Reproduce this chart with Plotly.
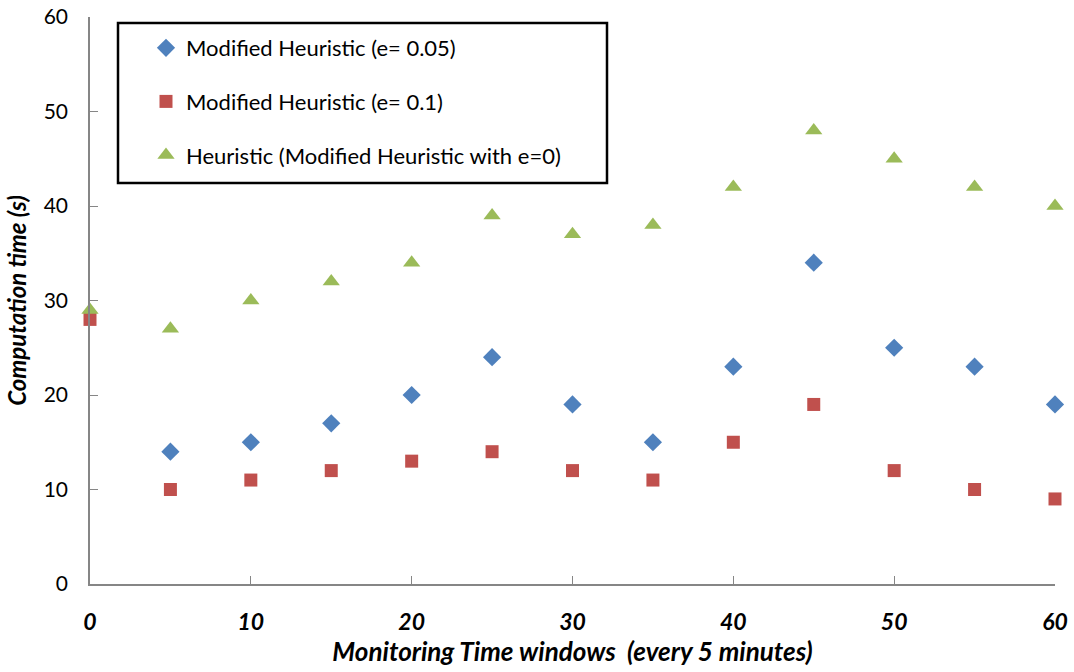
import plotly.graph_objects as go

# Monitoring time windows (every 5 minutes)
windows = [0, 5, 10, 15, 20, 25, 30, 35, 40, 45, 50, 55, 60]

# Computation time (s) for each method (no e=0.05 run at window 0)
mod_e005 = [None, 14, 15, 17, 20, 24, 19, 15, 23, 34, 25, 23, 19]
mod_e01 = [28, 10, 11, 12, 13, 14, 12, 11, 15, 19, 12, 10, 9]
heuristic = [29, 27, 30, 32, 34, 39, 37, 38, 42, 48, 45, 42, 40]

x_ticks = [0, 10, 20, 30, 40, 50, 60]
y_ticks = [0, 10, 20, 30, 40, 50, 60]

FONT = "Lato"

# plot-area geometry in pixels
L, R, T, B = 90, 1055, 17, 584
PW, PH = R - L, B - T

fig = go.Figure()
fig.add_trace(go.Scatter(
    x=windows, y=mod_e005, mode="markers", name="Modified Heuristic (e= 0.05)",
    marker=dict(symbol="diamond", size=14, color="#4F81BD"), legendgroup="a",
    cliponaxis=False))
fig.add_trace(go.Scatter(
    x=windows, y=mod_e01, mode="markers", name="Modified Heuristic (e= 0.1)",
    marker=dict(symbol="square", size=13, color="#C0504D"), legendgroup="b",
    cliponaxis=False))
fig.add_trace(go.Scatter(
    x=windows, y=heuristic, mode="markers", name="Heuristic (Modified Heuristic with e=0)",
    marker=dict(symbol="triangle-up", size=15, color="#9BBB59"), legendgroup="c",
    cliponaxis=False))

# Legend frame
fig.add_shape(type="rect", xref="paper", yref="paper",
              x0=(118 - L) / PW, x1=(607 - L) / PW,
              y0=(B - 183) / PH, y1=(B - 23) / PH,
              line=dict(color="black", width=2.5), fillcolor="white", layer="below")

fig.update_layout(
    width=1074, height=672,
    margin=dict(l=L, r=1074 - R, t=T, b=672 - B),
    paper_bgcolor="white", plot_bgcolor="white",
    font=dict(family=FONT, size=22, color="black"),
    showlegend=True,
    legend=dict(
        x=(146 - L) / PW, y=(B - 27) / PH, xanchor="left", yanchor="top",
        bgcolor="rgba(0,0,0,0)", borderwidth=0,
        font=dict(family=FONT, size=22, color="black"),
        tracegroupgap=22, itemwidth=30,
    ),
    xaxis=dict(
        range=[0, 60], tickvals=x_ticks, ticktext=[str(v) for v in x_ticks],
        showgrid=False, zeroline=False, showline=True, linecolor="#868686", linewidth=2,
        ticks="inside", ticklen=8, tickcolor="#868686", tickwidth=1,
        tickfont=dict(family=FONT, size=23, color="black", weight="bold", style="italic"),
        ticklabelstandoff=16, automargin=False,
        title=dict(text="Monitoring Time windows  (every 5 minutes)",
                   font=dict(family=FONT, size=26, weight="bold", style="italic"), standoff=8),
    ),
    yaxis=dict(
        range=[0, 60], tickvals=y_ticks, ticktext=[str(v) for v in y_ticks],
        showgrid=False, zeroline=False, showline=True, linecolor="#868686", linewidth=1.5,
        ticks="inside", ticklen=8, tickcolor="#868686", tickwidth=1,
        tickfont=dict(family=FONT, size=21, color="black"),
        ticklabelstandoff=16, automargin=False,
        title=dict(text="Computation time (s)",
                   font=dict(family=FONT, size=24, weight="bold", style="italic"), standoff=10),
    ),
)

fig.write_html("out.html")
